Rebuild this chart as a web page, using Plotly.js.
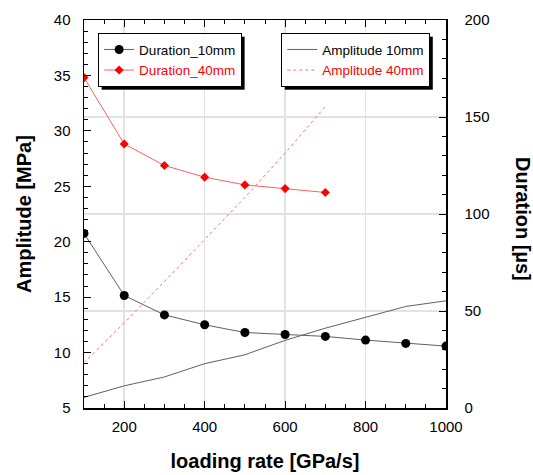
<!DOCTYPE html>
<html>
<head>
<meta charset="utf-8">
<script src="https://cdn.plot.ly/plotly-3.0.1.min.js"></script>
<style>
html,body{margin:0;padding:0;background:#fff;}
#chart{width:533px;height:475px;}
</style>
</head>
<body>
<div id="chart"></div>
<script>
// loading rate [GPa/s]
const loadingRate10 = [100, 200, 300, 400, 500, 600, 700, 800, 900, 1000];
const loadingRate40 = [100, 200, 300, 400, 500, 600, 700];
// Duration [µs] (right axis)
const duration10 = [90.0, 58.0, 48.0, 42.9, 38.9, 37.9, 36.9, 35.0, 33.3, 31.9];
const duration40 = [170.3, 136.1, 125.0, 119.0, 115.0, 113.1, 111.1];
// Amplitude [MPa] (left axis)
const amplitude10 = [5.96, 7.0, 7.8, 9.0, 9.8, 11.1, 12.2, 13.2, 14.16, 14.67];
const amplitude40 = [9.1, 12.7, 16.4, 20.2, 24.0, 28.0, 32.2];
const xTickVals = [200, 400, 600, 800, 1000];

const FONT = 'Liberation Sans, Arial, sans-serif';

const traces = [
  {x: loadingRate10, y: duration10, yaxis: 'y2', name: 'Duration_10mm', mode: 'lines+markers',
   line: {color: '#606060', width: 1}, marker: {symbol: 'circle', size: 9, color: '#000000'}, legend: 'legend'},
  {x: loadingRate40, y: duration40, yaxis: 'y2', name: '<span style="color:#ff0000">Duration_40mm</span>', mode: 'lines+markers',
   line: {color: '#ff6060', width: 1}, marker: {symbol: 'diamond', size: 7, color: '#ff0000'}, legend: 'legend'},
  {x: loadingRate10, y: amplitude10, yaxis: 'y', name: 'Amplitude 10mm', mode: 'lines',
   line: {color: '#606060', width: 1}, legend: 'legend2'},
  {x: loadingRate40, y: amplitude40, yaxis: 'y', name: '<span style="color:#ff0000">Amplitude 40mm</span>', mode: 'lines',
   line: {color: '#ff7070', width: 1, dash: 'dot'}, legend: 'legend2'}
];

const legendBase = {
  xanchor: 'left', yanchor: 'top', bgcolor: '#ffffff', bordercolor: '#000000', borderwidth: 1,
  font: {family: FONT, size: 13.5, color: '#000000'}, tracegroupgap: 0, itemwidth: 30
};

const layout = {
  width: 533, height: 475,
  margin: {l: 84, r: 87, t: 20, b: 67},
  paper_bgcolor: '#ffffff', plot_bgcolor: '#ffffff',
  font: {family: FONT, size: 14, color: '#000000'},
  showlegend: true,
  legend: Object.assign({}, legendBase, {x: 0.039, y: 0.966}),
  legend2: Object.assign({}, legendBase, {x: 0.545, y: 0.966}),
  xaxis: {
    range: [100, 1000], tickvals: xTickVals, ticks: 'inside', ticklen: 7, tickwidth: 1, tickcolor: '#000',
    showline: true, linecolor: '#000', linewidth: 1.5, mirror: 'ticks',
    showgrid: true, gridcolor: '#e2e2e2', gridwidth: 1.5, zeroline: false,
    minor: {dtick: 50, ticks: 'inside', ticklen: 4, tickcolor: '#000', showgrid: false},
    tickfont: {size: 15}, ticklabelstandoff: 4,
    title: {text: '<b>loading rate [GPa/s]</b>', font: {size: 20}, standoff: 20}
  },
  yaxis: {
    range: [5, 40], dtick: 5, ticks: 'inside', ticklen: 7, tickwidth: 1, tickcolor: '#000',
    showline: true, linecolor: '#000', linewidth: 1.5, showgrid: false, zeroline: false,
    minor: {dtick: 1, ticks: 'inside', ticklen: 4, tickcolor: '#000', showgrid: false},
    tickfont: {size: 15}, ticklabelstandoff: 9,
    title: {text: '<b>Amplitude [MPa]</b>', font: {size: 20}, standoff: 17}
  },
  yaxis2: {
    range: [0, 200], dtick: 50, overlaying: 'y', side: 'right', ticks: 'inside', ticklen: 7, tickwidth: 1, tickcolor: '#000',
    showline: true, linecolor: '#000', linewidth: 1.5,
    showgrid: true, gridcolor: '#e2e2e2', gridwidth: 1.5, zeroline: false,
    minor: {dtick: 10, ticks: 'inside', ticklen: 4, tickcolor: '#000', showgrid: false},
    tickfont: {size: 15}, ticklabelstandoff: 14
  },
  annotations: [{
    text: '<b>Duration [µs]</b>', xref: 'paper', yref: 'paper', x: 1, xshift: 77, y: 0.487,
    xanchor: 'center', yanchor: 'middle', textangle: 90, showarrow: false,
    font: {family: FONT, size: 20, color: '#000'}
  }]
};

Plotly.newPlot('chart', traces, layout, {displayModeBar: false, staticPlot: true}).then(function () {
  ['legend', 'legend2'].forEach(function (cls) {
    const g = document.querySelector('g.' + cls);
    if (!g) return;
    const bg = g.querySelector('rect.bg');
    if (!bg) return;
    const sh = document.createElementNS('http://www.w3.org/2000/svg', 'rect');
    ['x', 'y', 'width', 'height'].forEach(function (a) { sh.setAttribute(a, bg.getAttribute(a) || 0); });
    sh.setAttribute('transform', 'translate(3,3)');
    sh.setAttribute('fill', '#000');
    g.insertBefore(sh, bg);
  });
});
</script>
</body>
</html>
